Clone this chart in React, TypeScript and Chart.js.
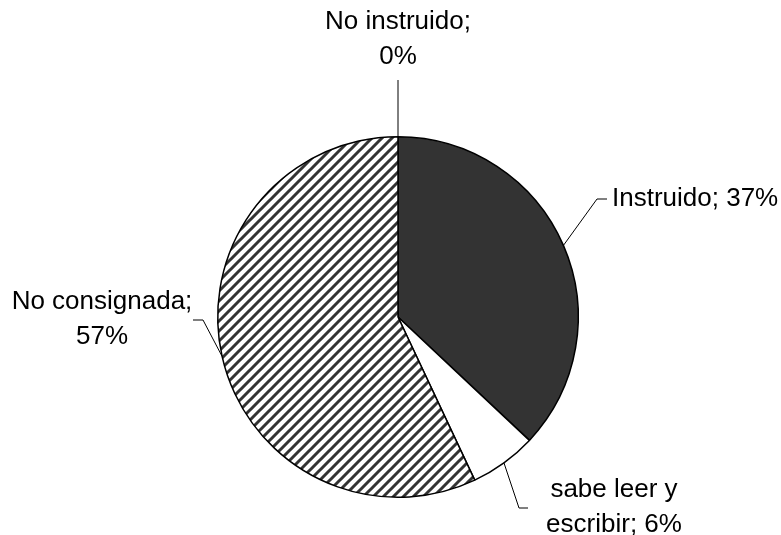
import React, { useEffect, useRef } from "react";
import { Chart, registerables } from "chart.js";

Chart.register(...registerables);

const categories = ["Instruido", "sabe leer y escribir", "No consignada", "No instruido"];
const values = [37, 6, 57, 0];
const labelTexts = [
  ["Instruido; 37%"],
  ["sabe leer y", "escribir; 6%"],
  ["No consignada;", "57%"],
  ["No instruido;", "0%"],
];

// layout for labels (text anchor, alignment, leader elbow points)
const labelLayout = [
  { x: 612, y: 199, align: "left", path: [[597, 199], [607, 199]] },
  { x: 614, y: 490, align: "center", path: [[519, 508], [528, 508]] },
  { x: 102, y: 302, align: "center", path: [[203, 320], [193, 320]] },
  { x: 398, y: 22, align: "center", path: [[398, 80]] },
];

function makeHatch(): CanvasPattern | string {
  const s = 10;
  const c = document.createElement("canvas");
  c.width = s;
  c.height = s;
  const g = c.getContext("2d");
  if (!g) return "#888";
  g.fillStyle = "#ffffff";
  g.fillRect(0, 0, s, s);
  g.strokeStyle = "#333333";
  g.lineWidth = 3;
  g.beginPath();
  g.moveTo(-2, s + 2);
  g.lineTo(s + 2, -2);
  g.moveTo(-3, 3);
  g.lineTo(3, -3);
  g.moveTo(s - 3, s + 3);
  g.lineTo(s + 3, s - 3);
  g.stroke();
  const p = g.createPattern(c, "repeat");
  return p || "#888";
}

export default function App() {
  const ref = useRef<HTMLCanvasElement | null>(null);
  useEffect(() => {
    if (!ref.current) return;
    const hatch = makeHatch();
    const labelPlugin = {
      id: "pieLabels",
      afterDraw(chart: any) {
        const ctx = chart.ctx;
        const meta = chart.getDatasetMeta(0);
        ctx.save();
        ctx.font = '26px "Liberation Sans", Arial, sans-serif';
        ctx.fillStyle = "#000";
        ctx.strokeStyle = "#000";
        ctx.lineWidth = 1;
        meta.data.forEach((arc: any, i: number) => {
          const p = arc.getProps(["x", "y", "startAngle", "endAngle", "outerRadius"], true);
          const mid = (p.startAngle + p.endAngle) / 2;
          const ax = p.x + Math.cos(mid) * p.outerRadius;
          const ay = p.y + Math.sin(mid) * p.outerRadius;
          const lay = labelLayout[i];
          ctx.beginPath();
          ctx.moveTo(ax, ay);
          lay.path.forEach((pt) => ctx.lineTo(pt[0], pt[1]));
          ctx.stroke();
          ctx.textAlign = lay.align;
          ctx.textBaseline = "middle";
          labelTexts[i].forEach((t, j) => {
            ctx.fillText(t, lay.x, lay.y + j * 35);
          });
        });
        ctx.restore();
      },
    };
    const chart = new Chart(ref.current, {
      type: "pie",
      data: {
        labels: categories,
        datasets: [
          {
            data: values,
            backgroundColor: ["#333333", "#ffffff", hatch, "#ffffff"],
            borderColor: "#000000",
            borderWidth: 1.5,
          },
        ],
      },
      options: {
        responsive: false,
        animation: false,
        layout: { padding: { left: 217, right: 202, top: 136, bottom: 37 } },
        plugins: { legend: { display: false }, tooltip: { enabled: false } },
      },
      plugins: [labelPlugin],
    });
    return () => chart.destroy();
  }, []);
  return (
    <div style={{ position: "fixed", left: 0, top: 0, width: 781, height: 535, background: "#fff" }}>
      <canvas ref={ref} width={781} height={535} style={{ display: "block" }} />
    </div>
  );
}
